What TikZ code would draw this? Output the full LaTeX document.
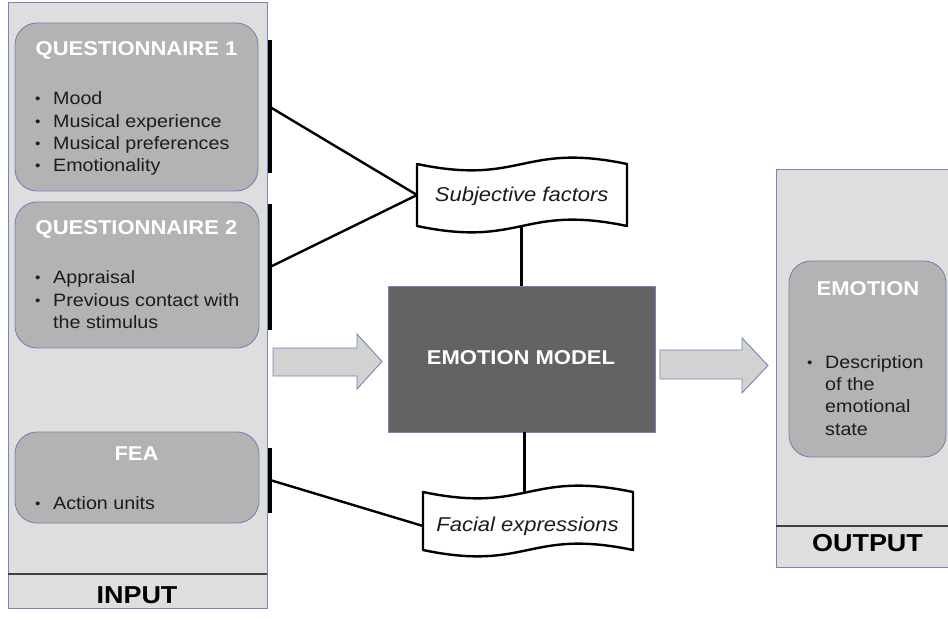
\documentclass[tikz,border=0pt]{standalone}
\usepackage{fontspec}
\setmainfont{Liberation Sans}[FakeStretch=1.1]
\usetikzlibrary{calc}
\definecolor{panelc}{HTML}{DEDEDE}
\definecolor{boxc}{HTML}{B3B3B3}
\definecolor{bordc}{HTML}{7585B5}
\definecolor{modelc}{HTML}{636363}
\definecolor{arrc}{HTML}{D2D2D2}
\definecolor{txtc}{HTML}{1C1C1C}
\definecolor{divc}{HTML}{404040}
\newcommand{\mybul}{\makebox[18pt][l]{\fontsize{14}{14}\selectfont\raisebox{1pt}{•}}}
\tikzset{
  panel/.style={draw=bordc, fill=panelc, line width=0.9pt, inner sep=0pt, outer sep=0pt, anchor=north west},
  qbox/.style={draw=bordc, fill=boxc, rounded corners=22pt, line width=0.9pt, inner sep=0pt, outer sep=0pt, anchor=north west},
  ttl/.style={text=white, font=\fontsize{20}{24}\selectfont\bfseries, anchor=base, inner sep=0pt},
  bigttl/.style={text=black, font=\fontsize{24.5}{28}\selectfont\bfseries, anchor=base, inner sep=0pt},
  bodytxt/.style={text=txtc, font=\fontsize{17.9}{22.2}\selectfont, anchor=base west, inner sep=0pt},
  itxt/.style={text=txtc, font=\fontsize{20}{24}\selectfont\itshape, anchor=base, inner sep=0pt},
  brk/.style={line width=3.4pt, black},
  conn/.style={line width=2.4pt, black},
  tapebox/.style={draw=none, inner sep=0pt, outer sep=0pt},
  tapeline/.style={draw=black, fill=white, line width=2.4pt, line join=round},
  blockarrow/.style={draw=bordc, fill=arrc, line width=0.9pt, line join=miter},
  divline/.style={draw=divc, line width=1.2pt}
}
\begin{document}
\begin{tikzpicture}[x=1pt, y=-1pt]
\fill[white] (0,0) rectangle (948,620);
\useasboundingbox (0,0) rectangle (948,620);

% INPUT panel
\node[panel, minimum width=259pt, minimum height=606pt] (inp) at (8,2) {};
\draw[divline] (8,574) -- (267,574);
\node[bigttl] (inplbl) at (137,603) {INPUT};

% Questionnaire 1
\node[qbox, minimum width=243pt, minimum height=168pt] (q1) at (15,23) {};
\node[ttl] (q1t) at (136.5,56) {QUESTIONNAIRE 1};
\node[bodytxt] (q1a) at (35,105) {\mybul Mood};
\node[bodytxt] (q1b) at (35,127.2) {\mybul Musical experience};
\node[bodytxt] (q1c) at (35,149.4) {\mybul Musical preferences};
\node[bodytxt] (q1d) at (35,171.6) {\mybul Emotionality};

% Questionnaire 2
\node[qbox, minimum width=244pt, minimum height=146pt] (q2) at (15,202) {};
\node[ttl] (q2t) at (136.5,235) {QUESTIONNAIRE 2};
\node[bodytxt] (q2a) at (35,284) {\mybul Appraisal};
\node[bodytxt] (q2b) at (35,306.2) {\mybul Previous contact with};
\node[bodytxt] (q2c) at (53,328.4) {the stimulus};

% FEA
\node[qbox, minimum width=244pt, minimum height=91pt] (fea) at (15,432) {};
\node[ttl] (feat) at (136.5,460) {FEA};
\node[bodytxt] (feaa) at (35,509) {\mybul Action units};

% brackets
\coordinate (b1t) at (270,40);  \coordinate (b1b) at (270,173); \coordinate (b1) at (270,107);
\coordinate (b2t) at (270,204); \coordinate (b2b) at (270,330); \coordinate (b2) at (270,267);
\coordinate (b3t) at (270,448); \coordinate (b3b) at (270,513); \coordinate (b3) at (270,480);
\draw[brk] (b1t) -- (b1b);
\draw[brk] (b2t) -- (b2b);
\draw[brk] (b3t) -- (b3b);

% OUTPUT panel
\node[panel, minimum width=185pt, minimum height=398pt] (outp) at (776,169) {};
\draw[divline] (776,526) -- (960,526);
\node[bigttl] (outlbl) at (867.5,551.5) {OUTPUT};

% Emotion box
\node[qbox, minimum width=157pt, minimum height=196pt] (emo) at (789,261) {};
\node[ttl] (emot) at (868,296) {EMOTION};
\node[bodytxt] (emoa) at (807,368.5) {\mybul Description};
\node[bodytxt] (emob) at (825,390.7) {of the};
\node[bodytxt] (emoc) at (825,412.9) {emotional};
\node[bodytxt] (emod) at (825,435.1) {state};

% Emotion model
\node[draw=bordc, fill=modelc, line width=0.9pt, minimum width=267pt, minimum height=146pt, inner sep=0pt, outer sep=0pt, anchor=north west] (model) at (388,286) {};
\node[ttl] (modelt) at (521,365) {EMOTION MODEL};

% Subjective factors tape
\node[tapebox, minimum width=210pt, minimum height=62pt] (subj) at (522,195) {};
\draw[tapeline] (subj.north west) .. controls ($(subj.north)+(0,22)$) and ($(subj.north)+(0,-22)$) .. (subj.north east)
  -- (subj.south east) .. controls ($(subj.south)+(0,-22)$) and ($(subj.south)+(0,22)$) .. (subj.south west) -- cycle;
\node[itxt] (subjt) at (521.7,201.5) {Subjective factors};

% Facial expressions tape
\node[tapebox, minimum width=210pt, minimum height=58pt] (fac) at (528,521) {};
\draw[tapeline] (fac.north west) .. controls ($(fac.north)+(0,22)$) and ($(fac.north)+(0,-22)$) .. (fac.north east)
  -- (fac.south east) .. controls ($(fac.south)+(0,-22)$) and ($(fac.south)+(0,22)$) .. (fac.south west) -- cycle;
\node[itxt] (fact) at (527.5,531.7) {Facial expressions};

% connectors
\draw[conn] (b1) -- (subj.west);
\draw[conn] (b2) -- (subj.west);
\draw[conn] (b3) -- ($(fac.west)+(0,5)$);
\draw[conn] (model.north) -- (model.north |- subj.south);
\draw[conn] ($(model.south)+(3,0)$) -- ($(model.south |- fac.north)+(3,0)$);

% block arrows
\draw[blockarrow] (273,348) -- (357,348) -- (357,334) -- (382,361.5) -- (357,389) -- (357,376) -- (273,376) -- cycle;
\draw[blockarrow] (660,350) -- (742,350) -- (742,338) -- (768,365.5) -- (742,393) -- (742,379) -- (660,379) -- cycle;
\end{tikzpicture}
\end{document}
